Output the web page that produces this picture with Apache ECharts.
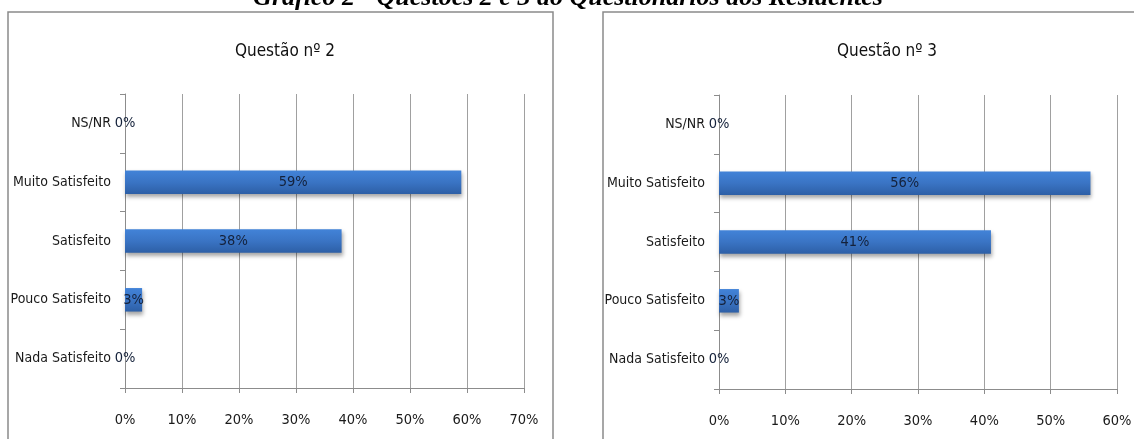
<!DOCTYPE html>
<html>
<head>
<meta charset="utf-8">
<script src="https://cdn.jsdelivr.net/npm/echarts@6/dist/echarts.min.js"></script>
<style>
  html, body { margin: 0; padding: 0; background: #fff; }
  #chart { width: 1134px; height: 439px; }
</style>
</head>
<body>
<div id="chart"></div>
<script>
const categories = ['NS/NR', 'Muito Satisfeito', 'Satisfeito', 'Pouco Satisfeito', 'Nada Satisfeito']
const questao2 = [0, 59, 38, 3, 0]
const questao3 = [0, 56, 41, 3, 0]
const titles = ['Questão nº 2', 'Questão nº 3']
const axisMax = [70, 60]

const font = "'DejaVu Sans Condensed', 'Liberation Sans Narrow', 'Noto Sans', sans-serif"
const textColor = '#1a1a1a'

const barColor = new echarts.graphic.LinearGradient(0, 0, 0, 1, [
  { offset: 0, color: '#4283d8' },
  { offset: 0.5, color: '#3a74c4' },
  { offset: 1, color: '#2d5fa6' }
])

function makeX(idx) {
  return {
    type: 'value',
    gridIndex: idx,
    min: 0,
    max: axisMax[idx],
    interval: 10,
    axisLine: { show: true, lineStyle: { color: '#8c8c8c', width: 1 } },
    axisTick: { show: true, length: 5, lineStyle: { color: '#8c8c8c' } },
    axisLabel: {
      color: textColor,
      fontFamily: font,
      fontSize: 14.5,
      margin: 25,
      formatter: (v) => v + '%'
    },
    splitLine: { show: true, lineStyle: { color: '#a0a0a0', width: 1 } }
  }
}

function makeY(idx) {
  return {
    type: 'category',
    gridIndex: idx,
    data: categories,
    inverse: true,
    axisLine: { show: true, lineStyle: { color: '#8c8c8c', width: 1 } },
    axisTick: { show: true, length: 5, lineStyle: { color: '#8c8c8c' } },
    axisLabel: {
      color: textColor,
      fontFamily: font,
      fontSize: 14,
      margin: 14
    }
  }
}

function makeSeries(idx, values) {
  return {
    type: 'bar',
    xAxisIndex: idx,
    yAxisIndex: idx,
    data: values,
    barWidth: '40%',
    itemStyle: {
      color: barColor,
      shadowColor: 'rgba(0, 0, 0, 0.35)',
      shadowBlur: 4,
      shadowOffsetX: 1,
      shadowOffsetY: 3
    },
    label: {
      show: true,
      position: 'inside',
      color: '#14213a',
      fontFamily: font,
      fontSize: 14.5,
      formatter: (p) => p.value + '%'
    }
  }
}

const chart = echarts.init(document.getElementById('chart'))

chart.setOption({
  animation: false,
  title: [
    {
      text: titles[0],
      left: 280,
      top: 38,
      textAlign: 'center',
      textStyle: { fontFamily: font, fontSize: 17, fontWeight: 'normal', color: '#111' }
    },
    {
      text: titles[1],
      left: 882,
      top: 38,
      textAlign: 'center',
      textStyle: { fontFamily: font, fontSize: 17, fontWeight: 'normal', color: '#111' }
    }
  ],
  graphic: [
    {
      type: 'text',
      x: 568,
      y: 11,
      style: {
        text: 'Gráfico 2 - Questões 2 e 3 do Questionários dos Residentes',
        font: "italic bold 26px 'Liberation Serif', 'DejaVu Serif', serif",
        fill: '#000',
        align: 'center',
        verticalAlign: 'bottom'
      }
    },
    {
      type: 'rect',
      shape: { x: 8, y: 12, width: 545, height: 460 },
      style: { fill: 'none', stroke: '#8a8a8a', lineWidth: 1.5 }
    },
    {
      type: 'rect',
      shape: { x: 603, y: 12, width: 560, height: 460 },
      style: { fill: 'none', stroke: '#8a8a8a', lineWidth: 1.5 }
    }
  ],
  grid: [
    { left: 125, top: 94, width: 399, height: 294, outerBoundsMode: 'none' },
    { left: 719, top: 95, width: 398, height: 294, outerBoundsMode: 'none' }
  ],
  xAxis: [makeX(0), makeX(1)],
  yAxis: [makeY(0), makeY(1)],
  series: [makeSeries(0, questao2), makeSeries(1, questao3)]
})
</script>
</body>
</html>
